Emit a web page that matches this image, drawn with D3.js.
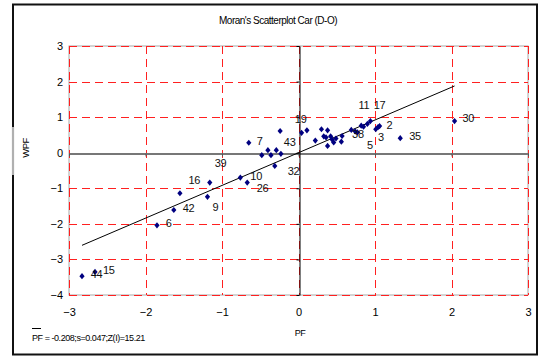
<!DOCTYPE html>
<html>
<head>
<meta charset="utf-8">
<script src="https://cdn.jsdelivr.net/npm/d3@7"></script>
<style>
  html, body { margin: 0; padding: 0; background: #fff; }
  svg { display: block; font-family: "Liberation Sans", Arial, sans-serif; }
</style>
</head>
<body>
<svg id="chart" width="540" height="357"></svg>
<script>
// Standardised variable (PF) and its spatial lag (WPF) for each region
const regionIds = ["44","15","6","42","16","9","39","10","26","7","32","43","","","","","","19","",
  "","","","","","","","","","","","38","","","5","11","","","17","3","","2","35","30"];
const pf  = [-2.83,-2.66,-1.85,-1.63,-1.55,-1.19,-1.16,-0.76,-0.67,-0.65,-0.31,-0.29,-0.48,-0.40,-0.36,-0.23,-0.24,0.04,0.11,
  0.22,0.30,0.33,0.38,0.36,0.42,0.38,0.44,0.46,0.49,0.56,0.57,0.69,0.74,0.77,0.82,0.85,0.90,0.94,1.01,1.04,1.06,1.33,2.04];
const wpf = [-3.47,-3.35,-2.04,-1.61,-1.14,-1.24,-0.84,-0.70,-0.84,0.28,-0.37,0.07,-0.07,0.07,-0.07,-0.03,0.61,0.56,0.63,
  0.34,0.66,0.46,0.63,0.43,0.46,0.19,0.37,0.29,0.40,0.31,0.47,0.64,0.60,0.57,0.76,0.73,0.81,0.89,0.66,0.72,0.75,0.41,0.89];

// Fitted line (slope = Moran's I) and summary statistics
const fitSlope = 0.92;
const fitIntercept = 0.0;
const pfMean = -0.208, pfSd = 0.047, zScore = 15.21;

const xTicks = [-3, -2, -1, 0, 1, 2, 3];
const yTicks = [-4, -3, -2, -1, 0, 1, 2, 3];

// Label nudges (pixels, relative to the marker) so the ids don't collide
const labelNudge = {
  "44": [8.7, -2], "15": [8, -2], "6": [8.7, -2], "42": [9, -1.5], "16": [8.5, -13],
  "9": [5, 10], "39": [5, -19.5], "10": [10, -1.5], "26": [9.5, 5.5], "7": [8, -2],
  "32": [13, 5], "43": [7.5, -8], "19": [-6.7, -13.7], "38": [10, -2], "5": [9.7, 12.7],
  "11": [-2.7, -20.7], "17": [3.3, -16], "3": [2.3, 7.7], "2": [7, -1], "35": [9, -2], "30": [8, -3]
};

const svg = d3.select("#chart");
const plot = { left: 69, right: 528, top: 46, bottom: 295 };

const x = d3.scaleLinear().domain([-3, 3]).range([plot.left, plot.right]);
const y = d3.scaleLinear().domain([-4, 3]).range([plot.bottom, plot.top]);

// Outer frame
svg.append("rect")
  .attr("x", 13).attr("y", 4.5).attr("width", 524).attr("height", 350)
  .attr("fill", "none").attr("stroke", "#111").attr("stroke-width", 2);
svg.append("line")
  .attr("x1", 13).attr("x2", 13).attr("y1", 127).attr("y2", 175)
  .attr("stroke", "#b0b0b0").attr("stroke-width", 2.2);

// Title
svg.append("text")
  .attr("x", 278).attr("y", 24)
  .attr("text-anchor", "middle")
  .attr("font-size", 10).attr("letter-spacing", -0.5)
  .text("Moran's Scatterplot Car (D-O)");

// Plot area border
svg.append("rect")
  .attr("x", plot.left).attr("y", plot.top)
  .attr("width", plot.right - plot.left).attr("height", plot.bottom - plot.top)
  .attr("fill", "none").attr("stroke", "#a8a8a8").attr("stroke-width", 1);

// Dashed grid
const grid = svg.append("g").attr("stroke", "#ff2020").attr("stroke-width", 1)
  .attr("stroke-dasharray", "8,5");
grid.selectAll("line.v").data(xTicks).join("line")
  .attr("class", "v")
  .attr("x1", d => Math.round(x(d)) + 0.5).attr("x2", d => Math.round(x(d)) + 0.5)
  .attr("y1", plot.top).attr("y2", plot.bottom);
grid.selectAll("line.h").data(yTicks).join("line")
  .attr("class", "h")
  .attr("y1", d => Math.round(y(d)) + 0.5).attr("y2", d => Math.round(y(d)) + 0.5)
  .attr("x1", plot.left).attr("x2", plot.right);

// Zero axes through the origin
const xZero = svg.append("g")
  .attr("transform", `translate(0,${Math.round(y(0)) + 0.5})`)
  .call(d3.axisBottom(x).tickValues(xTicks).tickSize(3).tickSizeOuter(0).tickFormat(""));
xZero.select(".domain").attr("stroke", "#777").attr("stroke-width", 2);
xZero.selectAll(".tick line").attr("stroke", "#555");

const yZero = svg.append("g")
  .attr("transform", `translate(${Math.round(x(0)) + 0.5},0)`)
  .call(d3.axisLeft(y).tickValues(yTicks).tickSize(3).tickSizeOuter(0).tickFormat(""));
yZero.select(".domain").attr("stroke", "#000").attr("stroke-width", 1);
yZero.selectAll(".tick line").attr("stroke", "#000");

// Tick labels on the plot edges
const xAxis = svg.append("g")
  .attr("transform", `translate(0,${plot.bottom})`)
  .call(d3.axisBottom(x).tickValues(xTicks).tickSize(0).tickPadding(13).tickFormat(d3.format("d")));
xAxis.select(".domain").remove();
xAxis.selectAll("text").attr("font-size", 11).attr("fill", "#000")
  .attr("font-family", "'Liberation Sans', Arial, sans-serif");

const yAxis = svg.append("g")
  .attr("transform", `translate(${plot.left},0)`)
  .call(d3.axisLeft(y).tickValues(yTicks).tickSize(0).tickPadding(6).tickFormat(d3.format("d")));
yAxis.select(".domain").remove();
yAxis.selectAll("text").attr("font-size", 11).attr("fill", "#000")
  .attr("font-family", "'Liberation Sans', Arial, sans-serif");

// Axis titles
svg.append("text")
  .attr("transform", "translate(29,148) rotate(-90)")
  .attr("text-anchor", "middle")
  .attr("font-size", 9.5).attr("letter-spacing", -0.5)
  .text("WPF");
svg.append("text")
  .attr("x", 300).attr("y", 336)
  .attr("text-anchor", "middle")
  .attr("font-size", 9).attr("letter-spacing", -0.5)
  .text("PF");

// Regression line across the range of PF
const [xMin, xMax] = d3.extent(pf);
svg.append("line")
  .attr("x1", x(xMin)).attr("y1", y(fitIntercept + fitSlope * xMin))
  .attr("x2", x(xMax)).attr("y2", y(fitIntercept + fitSlope * xMax))
  .attr("stroke", "#000").attr("stroke-width", 1);

// Points
const points = pf.map((v, i) => ({ pf: v, wpf: wpf[i], id: regionIds[i] }));
const diamond = {
  draw(ctx, size) {
    const w = 2.6, h = 3.1;
    ctx.moveTo(0, -h); ctx.lineTo(w, 0); ctx.lineTo(0, h); ctx.lineTo(-w, 0); ctx.closePath();
  }
};
svg.append("g").selectAll("path").data(points).join("path")
  .attr("transform", d => `translate(${x(d.pf)},${y(d.wpf)})`)
  .attr("d", d3.symbol(diamond))
  .attr("fill", "#000080");

// Region ids
svg.append("g").selectAll("text").data(points.filter(d => d.id)).join("text")
  .attr("x", d => x(d.pf) + (labelNudge[d.id] || [8, 0])[0])
  .attr("y", d => y(d.wpf) + (labelNudge[d.id] || [8, 0])[1])
  .attr("dy", "0.36em")
  .attr("font-size", 11).attr("letter-spacing", -0.3)
  .attr("fill", "#111")
  .text(d => d.id);

// Summary statistics
const stats = svg.append("text")
  .attr("x", 32).attr("y", 341)
  .attr("font-size", 9).attr("letter-spacing", -0.45);
stats.text(`PF = ${pfMean.toFixed(3)};s=${pfSd.toFixed(3)};Z(I)=${zScore.toFixed(2)}`);
svg.append("line")
  .attr("x1", 32).attr("x2", 41).attr("y1", 328.5).attr("y2", 328.5)
  .attr("stroke", "#000").attr("stroke-width", 1);
</script>
</body>
</html>
